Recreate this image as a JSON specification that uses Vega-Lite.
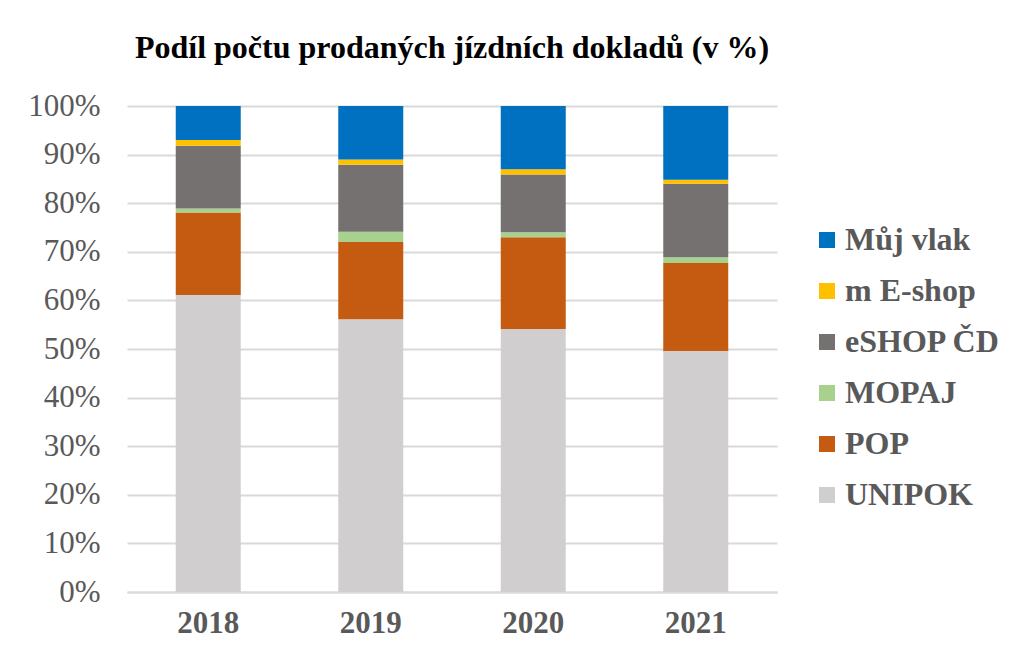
{
  "$schema": "https://vega.github.io/schema/vega-lite/v6.json",
  "width": 650,
  "height": 486,
  "autosize": {"type": "none"},
  "padding": {"left": 127, "top": 106, "right": 235, "bottom": 63},
  "background": "white",
  "title": {
    "text": "Podíl počtu prodaných jízdních dokladů (v %)",
    "font": "Liberation Serif",
    "fontSize": 32,
    "fontWeight": "bold",
    "color": "#000000",
    "anchor": "middle",
    "offset": 25
  },
  "data": {
    "values": [
      {"rok": "2018", "kanal": "UNIPOK", "podil": 61.1},
      {"rok": "2018", "kanal": "POP", "podil": 17.0},
      {"rok": "2018", "kanal": "MOPAJ", "podil": 0.8},
      {"rok": "2018", "kanal": "eSHOP ČD", "podil": 12.9},
      {"rok": "2018", "kanal": "m E-shop", "podil": 1.2},
      {"rok": "2018", "kanal": "Můj vlak", "podil": 7.0},
      {"rok": "2019", "kanal": "UNIPOK", "podil": 56.1},
      {"rok": "2019", "kanal": "POP", "podil": 15.9},
      {"rok": "2019", "kanal": "MOPAJ", "podil": 2.1},
      {"rok": "2019", "kanal": "eSHOP ČD", "podil": 13.8},
      {"rok": "2019", "kanal": "m E-shop", "podil": 1.1},
      {"rok": "2019", "kanal": "Můj vlak", "podil": 11.0},
      {"rok": "2020", "kanal": "UNIPOK", "podil": 54.1},
      {"rok": "2020", "kanal": "POP", "podil": 18.9},
      {"rok": "2020", "kanal": "MOPAJ", "podil": 1.0},
      {"rok": "2020", "kanal": "eSHOP ČD", "podil": 11.9},
      {"rok": "2020", "kanal": "m E-shop", "podil": 1.1},
      {"rok": "2020", "kanal": "Můj vlak", "podil": 13.0},
      {"rok": "2021", "kanal": "UNIPOK", "podil": 49.6},
      {"rok": "2021", "kanal": "POP", "podil": 18.1},
      {"rok": "2021", "kanal": "MOPAJ", "podil": 1.2},
      {"rok": "2021", "kanal": "eSHOP ČD", "podil": 15.1},
      {"rok": "2021", "kanal": "m E-shop", "podil": 0.8},
      {"rok": "2021", "kanal": "Můj vlak", "podil": 15.2}
    ]
  },
  "transform": [
    {"calculate": "indexof(['UNIPOK','POP','MOPAJ','eSHOP ČD','m E-shop','Můj vlak'], datum.kanal)", "as": "poradi"}
  ],
  "mark": {"type": "bar"},
  "encoding": {
    "x": {
      "field": "rok",
      "type": "nominal",
      "title": null,
      "scale": {"paddingInner": 0.6, "paddingOuter": 0.3},
      "axis": {
        "labelAngle": 0,
        "labelFont": "Liberation Serif",
        "labelFontSize": 31,
        "labelFontWeight": "bold",
        "labelColor": "#595959",
        "labelPadding": 16,
        "ticks": false,
        "domainColor": "#d9d9d9",
        "domainWidth": 2
      }
    },
    "y": {
      "field": "podil",
      "type": "quantitative",
      "stack": "normalize",
      "title": null,
      "scale": {"domain": [0, 1]},
      "axis": {
        "values": [0, 0.1, 0.2, 0.3, 0.4, 0.5, 0.6, 0.7, 0.8, 0.9, 1],
        "format": ".0%",
        "labelFont": "Liberation Serif",
        "labelFontSize": 31,
        "labelColor": "#595959",
        "labelPadding": 27,
        "ticks": false,
        "domain": false,
        "gridColor": "#d9d9d9",
        "gridWidth": 2
      }
    },
    "color": {
      "field": "kanal",
      "type": "nominal",
      "title": null,
      "scale": {
        "domain": ["Můj vlak", "m E-shop", "eSHOP ČD", "MOPAJ", "POP", "UNIPOK"],
        "range": ["#0070C0", "#FFC000", "#767171", "#A9D18E", "#C55A11", "#D0CECE"]
      },
      "legend": {
        "orient": "none",
        "legendX": 684,
        "legendY": 118,
        "padding": 0,
        "symbolType": "square",
        "symbolSize": 256,
        "symbolStrokeWidth": 0,
        "labelFont": "Liberation Serif",
        "labelFontSize": 32,
        "labelFontWeight": "bold",
        "labelColor": "#595959",
        "labelOffset": 2,
        "rowPadding": 19,
        "labelLimit": 300
      }
    },
    "order": {"field": "poradi", "type": "quantitative", "sort": "ascending"}
  },
  "config": {
    "view": {"stroke": null}
  }
}
